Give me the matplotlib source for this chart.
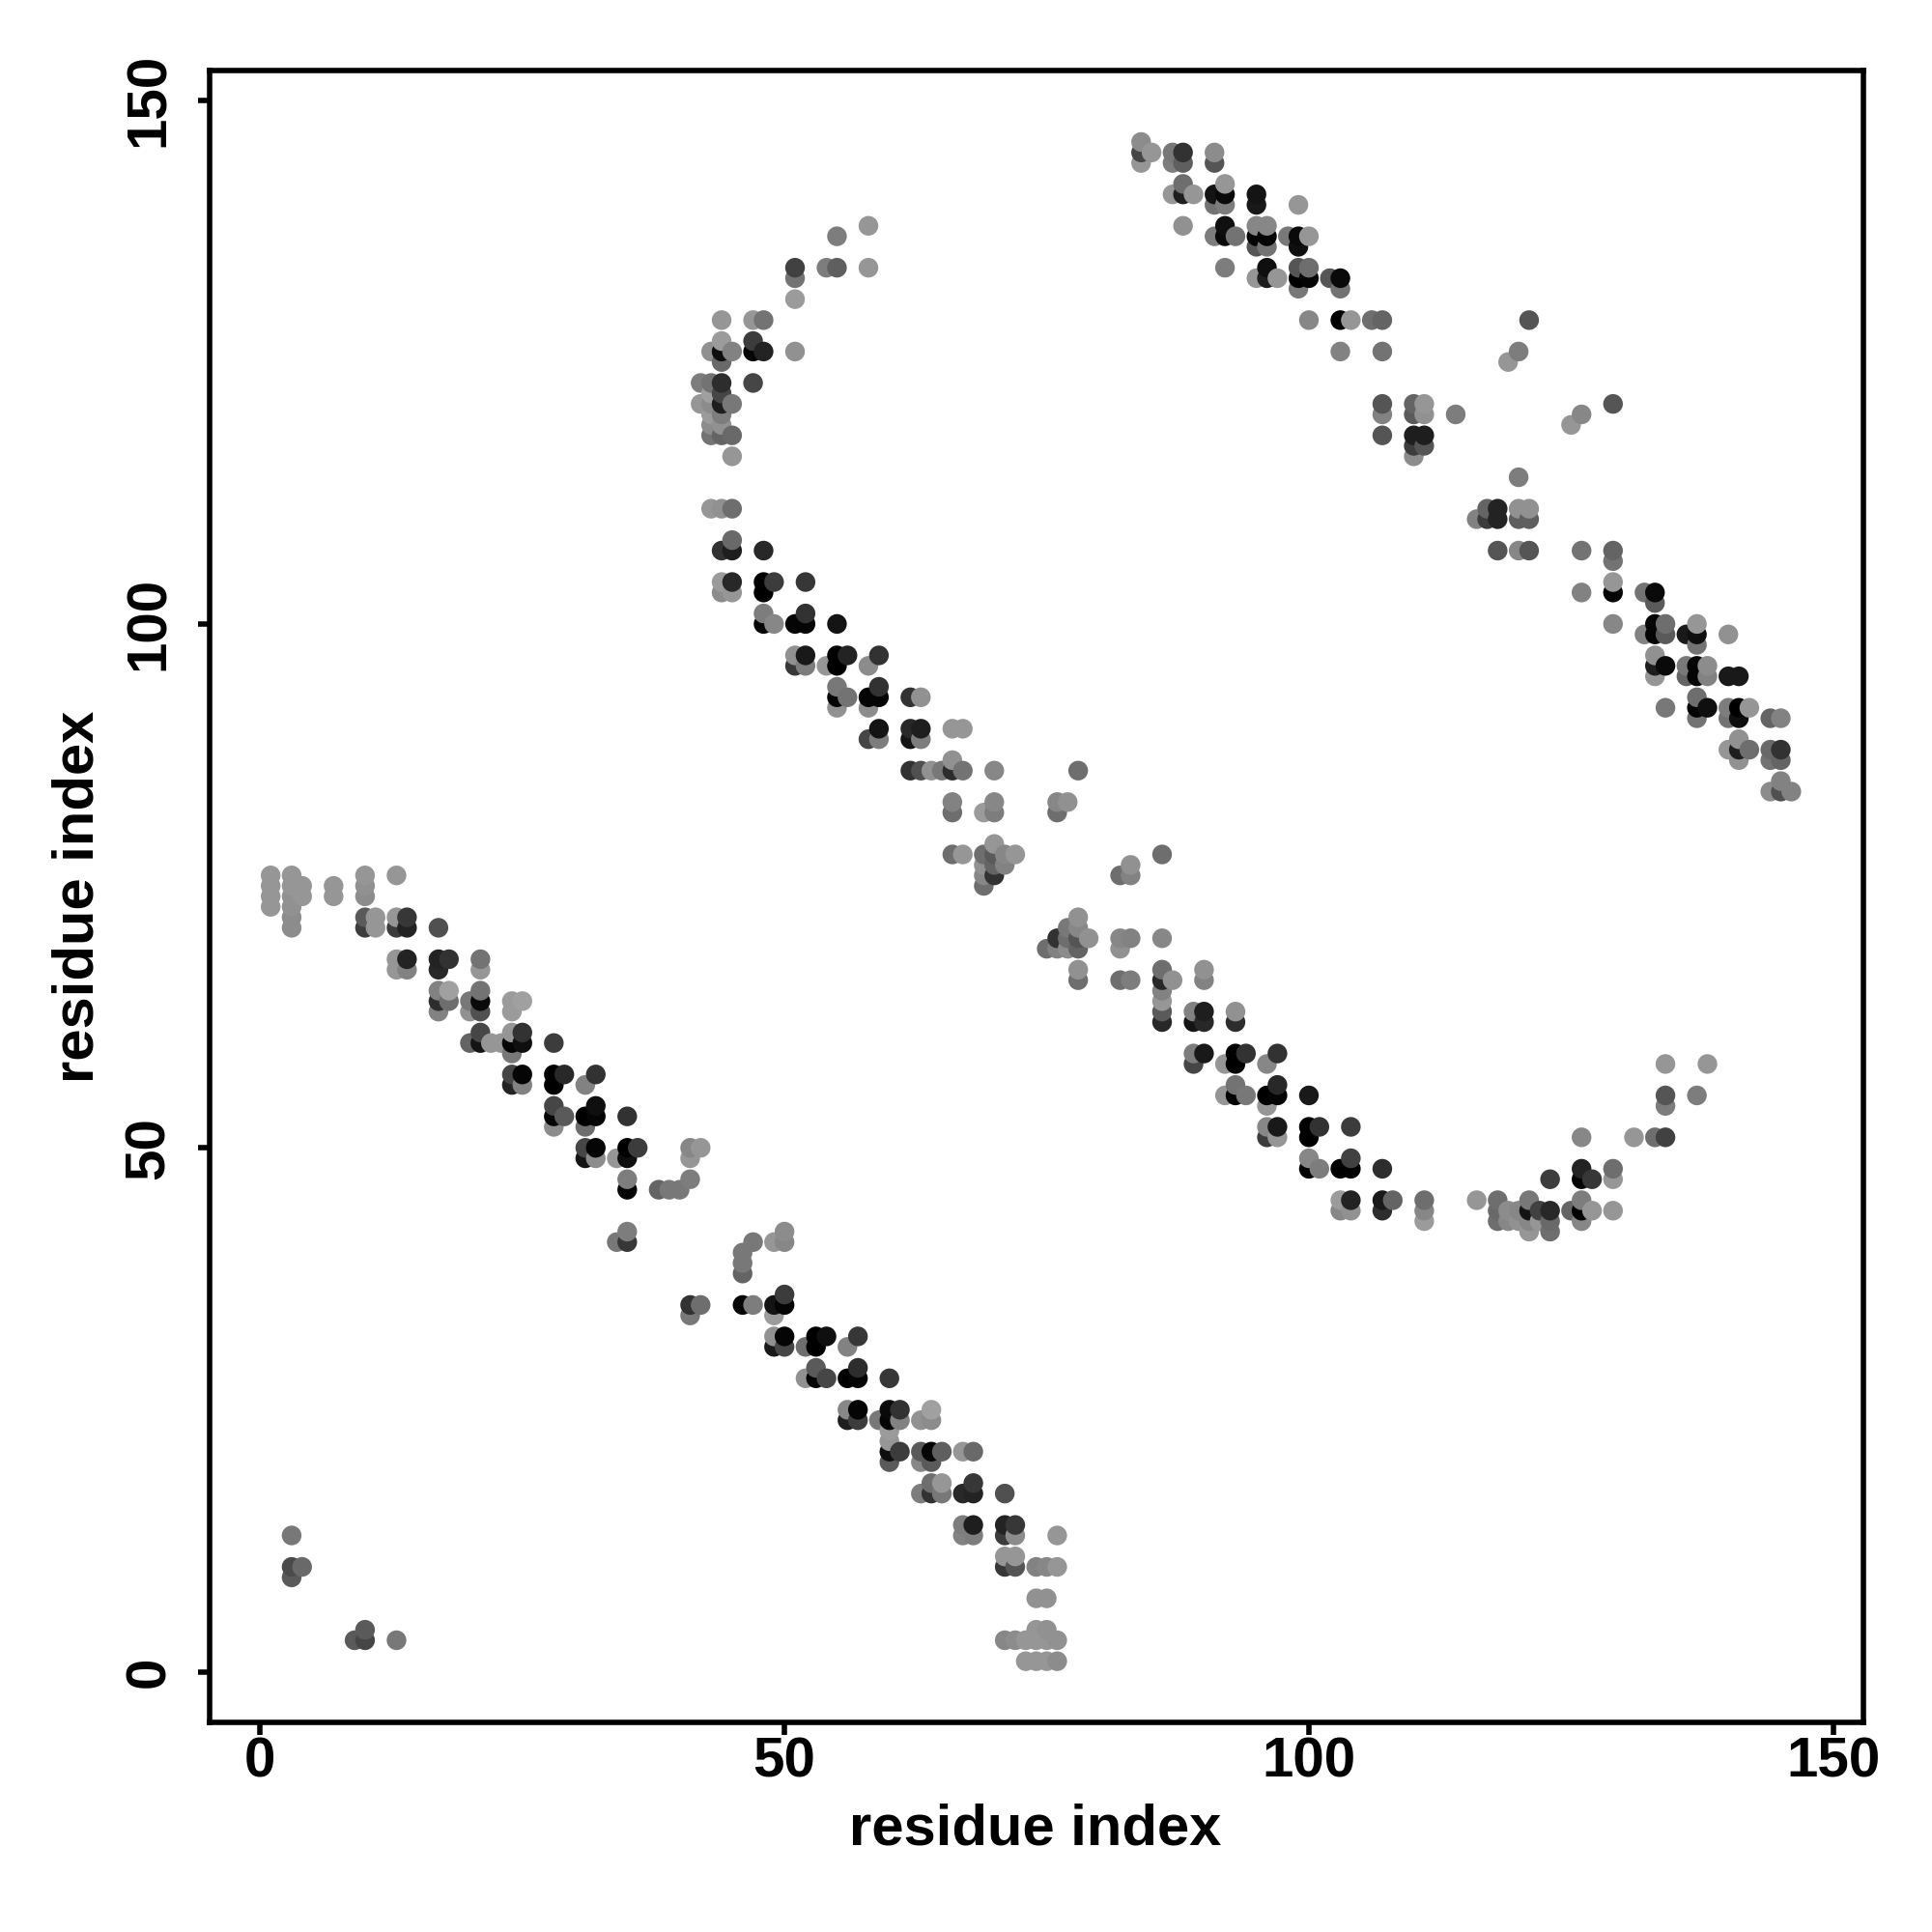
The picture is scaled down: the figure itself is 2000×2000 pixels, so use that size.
#!/usr/bin/env python3

import numpy as np
import matplotlib
matplotlib.use('Agg')
import matplotlib.pyplot as plt

# Residue pairs, one row per column of the map: x index, y indices, grey level (0-255)
col_x = [1, 3, 4, 7, 9, 10, 11, 13, 14, 17, 18, 20, 21, 22, 23, 24, 25, 28, 29, 31, 32, 34, 35, 36, 38, 39, 40, 41, 42,
         43, 44, 45, 46, 47, 48, 49, 50, 51, 52, 53, 54, 55, 56, 57, 58, 59, 60, 61, 62, 63, 64, 65, 66, 67, 68, 69, 70,
         71, 72, 73, 74, 75, 76, 77, 78, 79, 82, 83, 84, 85, 86, 87, 88, 89, 90, 91, 92, 93, 94, 95, 96, 97, 98, 99, 100,
         101, 102, 103, 104, 106, 107, 108, 110, 111, 114, 116, 117, 118, 119, 120, 121, 122, 123, 125, 126, 127, 129,
         131, 132, 133, 134, 136, 137, 138, 140, 141, 142, 144, 145, 146]

col_y = [
    [76, 75, 74, 73], [76, 75, 74, 73, 72, 71, 13, 10, 9], [75, 74, 10], [75, 74], [3],
    [76, 75, 74, 72, 71, 4, 3], [72, 71], [76, 72, 71, 68, 67, 3], [72, 71, 68, 67], [71, 68, 67, 65, 64, 63],
    [68, 65, 64], [64, 63, 60], [68, 67, 65, 64, 63, 61, 60], [60], [60],
    [64, 63, 61, 60, 59, 57, 56], [64, 61, 60, 57, 56], [60, 57, 56, 54, 53, 52], [57, 53], [56, 53, 52, 50, 49],
    [57, 54, 53, 50, 49], [49, 41], [53, 50, 49, 47, 46, 42, 41], [50], [46],
    [46], [46], [50, 49, 47, 35, 34], [123, 121, 50, 35],
    [126, 123, 122, 121, 120, 119, 118, 111],
    [129, 127, 126, 125, 123, 122, 121, 120, 119, 118, 111, 107, 104, 103],
    [126, 121, 118, 116, 111, 108, 107, 104, 103],
    [40, 39, 38, 35], [129, 127, 126, 123, 41, 35], [129, 126, 107, 104, 103, 101, 100],
    [104, 100, 41, 35, 34, 32, 31], [42, 41, 36, 35, 32, 31], [134, 133, 131, 126, 100, 97, 96],
    [104, 101, 100, 97, 96, 31, 28], [32, 31, 29, 28], [134, 96, 32, 28],
    [137, 134, 100, 97, 96, 94, 93, 92], [97, 93, 31, 28, 25, 24], [32, 29, 28, 25, 24],
    [138, 134, 96, 93, 92, 89], [97, 94, 93, 90, 89, 24], [28, 25, 24, 23, 22, 21, 20], [25, 24, 21],
    [93, 90, 89, 86], [93, 90, 89, 86, 24, 21, 20, 17], [86, 25, 24, 21, 20, 18, 17], [86, 21, 18, 17],
    [90, 87, 86, 83, 82, 78], [90, 86, 78, 21, 17, 14, 13], [21, 18, 17, 14, 13], [82, 78, 77, 76, 75],
    [86, 83, 82, 79, 78, 77, 76], [78, 77, 17, 14, 13, 11, 10, 3], [78, 14, 13, 11, 10, 3], [3, 1],
    [10, 7, 4, 3, 1], [69, 10, 7, 4, 3, 1], [83, 82, 70, 69, 13, 10, 3, 1], [83, 71, 70, 69],
    [86, 72, 71, 70, 69, 67, 66], [70], [76, 70, 69, 66], [77, 76, 70, 66], [146, 145, 144], [145],
    [78, 70, 67, 66, 65, 64, 63, 62], [145, 144, 141, 66], [145, 144, 142, 141, 138], [141, 63, 62, 59, 58],
    [67, 66, 63, 62, 59], [145, 144, 141, 140, 137], [142, 141, 140, 138, 137, 134, 58, 55],
    [137, 63, 62, 59, 58, 56, 55], [59, 55], [141, 140, 138, 137, 136, 133],
    [138, 137, 136, 134, 133, 58, 55, 54, 52, 51], [133, 59, 56, 55, 52, 51], [137],
    [140, 137, 136, 134, 133, 132], [137, 134, 133, 129, 55, 52, 51, 49, 48],
    [52, 48], [133], [133, 132, 129, 126, 48, 45, 44], [129, 52, 49, 48, 45, 44], [129],
    [129, 126, 121, 120, 118, 48, 45, 44], [45], [121, 120, 118, 117, 116], [121, 120, 118, 117, 45, 44, 43],
    [120], [110, 45], [111, 110], [111, 110, 107, 45, 44, 43], [125, 44, 43], [126, 114, 111, 110, 107, 44, 43],
    [129, 111, 110, 107, 45, 44, 43, 42], [44, 43], [47, 44, 43, 42], [119, 44],
    [120, 107, 103, 51, 48, 47, 45, 44, 43], [47, 44], [121, 107, 106, 104, 103, 100, 48, 47, 44],
    [51], [103, 99], [103, 102, 100, 99, 97, 96, 95, 51], [100, 99, 96, 92, 58, 55, 54, 51], [99, 96, 95],
    [100, 99, 98, 96, 95, 93, 92, 91, 55], [96, 95, 92, 58], [99, 95, 92, 91, 88], [95, 92, 91, 89, 88, 87],
    [92, 88], [91, 88, 87, 84], [91, 88, 87, 85, 84], [84],
]

col_grey = [
    [150, 150, 150, 150], [150, 150, 145, 145, 140, 140, 120, 75, 90], [150, 150, 105], [150, 150], [90],
    [150, 145, 140, 90, 60, 90, 70], [150, 150], [150, 150, 60, 150, 150, 120], [55, 35, 35, 130], [80, 35, 40, 130, 45, 130],
    [50, 160, 110], [120, 145, 100], [115, 150, 115, 10, 80, 70, 20], [150], [150],
    [155, 155, 150, 5, 120, 70, 35], [160, 50, 15, 5, 130], [60, 0, 0, 70, 5, 140], [40, 90], [130, 0, 110, 70, 20],
    [50, 15, 5, 5, 140], [150, 120], [50, 0, 15, 125, 5, 125, 55], [60], [100],
    [120], [120], [135, 150, 125, 50, 120], [125, 150, 150, 110],
    [145, 115, 160, 140, 155, 140, 115, 150],
    [150, 155, 15, 105, 45, 70, 30, 125, 145, 100, 145, 50, 155, 140],
    [130, 120, 105, 150, 110, 105, 30, 40, 150],
    [120, 120, 100, 5], [150, 60, 5, 70, 120, 125], [115, 35, 40, 0, 0, 125, 5],
    [60, 135, 150, 20, 155, 145, 25], [140, 135, 60, 5, 5, 70], [65, 115, 155, 145, 5, 145, 55],
    [55, 50, 5, 25, 125, 110, 145], [0, 0, 90, 5], [125, 150, 15, 70],
    [125, 95, 20, 0, 0, 120, 5, 145], [35, 115, 130, 0, 135, 30], [55, 45, 5, 5, 60],
    [150, 150, 140, 5, 140, 70], [50, 50, 5, 20, 125, 120], [55, 10, 5, 155, 150, 15, 90], [50, 130, 60],
    [50, 40, 20, 50], [145, 30, 125, 80, 145, 90, 135, 125], [145, 160, 140, 5, 90, 110, 50], [120, 95, 150, 120],
    [150, 145, 45, 130, 110, 110], [150, 115, 150, 150, 40, 125, 130], [105, 55, 35, 30, 125], [155, 110, 145, 135, 110],
    [135, 135, 125, 150, 90, 100, 50], [135, 130, 80, 35, 60, 150, 55, 135], [150, 55, 140, 150, 85, 140], [150, 150],
    [130, 145, 150, 150, 150], [110, 135, 145, 145, 150, 150], [135, 110, 50, 130, 150, 150, 145, 140], [145, 120, 110, 140],
    [110, 145, 135, 85, 100, 145, 110], [145], [110, 135, 145, 110], [145, 130, 130, 125], [140, 70, 150], [150],
    [110, 135, 110, 40, 130, 150, 90, 40], [120, 125, 150, 145], [50, 95, 110, 30, 145], [150, 130, 20, 125, 70],
    [145, 130, 30, 40, 25], [140, 85, 20, 115, 125], [150, 10, 125, 15, 10, 125, 150, 150],
    [115, 145, 45, 0, 0, 115, 5], [50, 120], [20, 25, 135, 5, 85, 150],
    [135, 5, 115, 15, 30, 135, 0, 150, 135, 60], [150, 50, 40, 5, 25, 150], [120],
    [150, 10, 15, 85, 0, 120], [150, 110, 5, 135, 25, 0, 0, 135, 0],
    [50, 125], [85], [10, 115, 0, 130, 0, 155, 135], [150, 60, 65, 0, 35, 145], [110],
    [100, 115, 85, 130, 85, 45, 25, 45], [100], [100, 90, 30, 60, 140], [150, 145, 30, 85, 110, 135, 155],
    [125], [130, 150], [100, 60], [35, 35, 85, 110, 105, 110], [150, 140, 135], [125, 125, 145, 95, 135, 135, 145],
    [85, 145, 95, 85, 120, 20, 135, 150], [65, 150], [60, 40, 105, 110], [150, 100],
    [135, 115, 130, 135, 35, 5, 125, 0, 135], [55, 150], [85, 100, 115, 150, 5, 135, 110, 150, 150],
    [150], [115, 130], [10, 90, 5, 5, 145, 30, 150, 110], [110, 90, 10, 120, 150, 85, 125, 65], [25, 120, 100],
    [150, 15, 115, 5, 5, 110, 5, 115, 125], [140, 130, 15, 150], [145, 25, 125, 115, 150], [25, 0, 15, 145, 30, 145],
    [150, 110], [100, 105, 115, 140], [130, 50, 100, 130, 80], [130],
]

ticks = [0, 50, 100, 150]

# Flatten the columns and draw left to right, bottom to top (later points sit on top)
x = np.concatenate([[cx] * len(cy) for cx, cy in zip(col_x, col_y)])
y = np.concatenate(col_y)
grey = np.concatenate(col_grey) / 255.0
order = np.lexsort((y, x))

plt.rcParams['font.family'] = ['Liberation Sans', 'DejaVu Sans']
plt.rcParams['font.weight'] = 'bold'

fig = plt.figure(figsize=(20, 20), dpi=100)
ax = fig.add_axes([0.1084, 0.1085, 0.8559, 0.8551])

ax.scatter(x[order], y[order], s=215, c=np.column_stack([grey[order]] * 3), linewidths=0)

ax.set_xlim(-4.84, 152.84)
ax.set_ylim(-4.84, 152.84)
ax.set_xticks(ticks)
ax.set_yticks(ticks)
ax.tick_params(axis='both', length=9, width=4, labelsize=42)
ax.tick_params(axis='x', pad=1.5)
ax.tick_params(axis='y', pad=16)
for label in ax.get_yticklabels():
    label.set_rotation(90)
    label.set_rotation_mode('anchor')
    label.set_ha('center')
    label.set_va('bottom')

for spine in ax.spines.values():
    spine.set_linewidth(4)

fig.text(0.536, 0.053, 'residue index', fontsize=43, fontweight='bold', ha='center', va='center')
fig.text(0.0405, 0.536, 'residue index', fontsize=43, fontweight='bold', ha='center', va='center', rotation=90)

fig.savefig('out.png', dpi=100)
